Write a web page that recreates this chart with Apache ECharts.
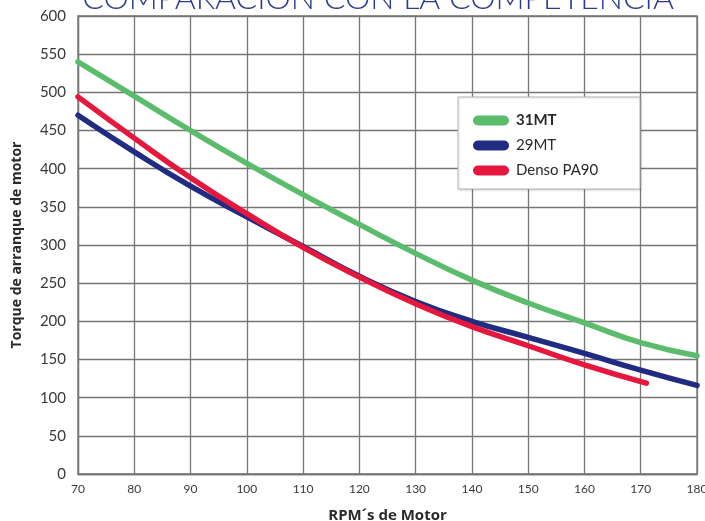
<!DOCTYPE html>
<html>
<head>
<meta charset="utf-8">
<script src="https://cdn.jsdelivr.net/npm/echarts@6/dist/echarts.min.js"></script>
<style>html,body{margin:0;padding:0;background:#fff;}#c{width:705px;height:521px;}</style>
</head>
<body>
<div id="c"></div>
<script>
var rpm = [70, 80, 90, 100, 110, 120, 130, 140, 150, 160, 170, 180];
var rpmDenso = [70, 80, 90, 100, 110, 120, 130, 140, 150, 160, 171];
var t31MT = [540, 495, 450, 407, 366, 327, 289, 254, 224, 198, 172, 155];
var t29MT = [470, 422, 377, 337, 298, 259, 226, 200, 179, 158, 136, 116];
var tDenso = [494, 440, 388, 341, 297, 258, 223, 193, 168, 143, 119];
var seriesNames = ['31MT', '29MT', 'Denso PA90'];
var titleText = 'COMPARACION CON LA COMPETENCIA';
var xName = 'RPM´s de Motor';
var yName = 'Torque de arranque de motor';

function pairs(xs, ys) { return xs.map(function (x, i) { return [x, ys[i]]; }); }

var font = 'Lato, "Open Sans", sans-serif';
var boldFont = '"Open Sans", Lato, sans-serif';
var gridColor = '#767676';
var pill = 'path://M5,0 L31,0 A5,5 0 0 1 31,10 L5,10 A5,5 0 0 1 5,0 Z';
var chart = echarts.init(document.getElementById('c'));
chart.setOption({
  animation: false,
  textStyle: { fontFamily: font },
  grid: { left: 78, right: 8, top: 16, bottom: 47, outerBoundsMode: 'none', containLabel: false, show: true, borderColor: gridColor, borderWidth: 1.3, backgroundColor: '#fff' },
  graphic: [
    { type: 'text', z: 10, style: { text: titleText, x: 378, y: 15, textAlign: 'center', textVerticalAlign: 'bottom', fontSize: 32, fontWeight: 300, fill: '#2b3a8f', fontFamily: font } },
    { type: 'rect', z: 10, shape: { x: 458, y: 97, width: 182, height: 92 }, style: { fill: '#fff', stroke: '#b5b5b5', lineWidth: 1, shadowBlur: 2, shadowColor: 'rgba(0,0,0,0.15)', shadowOffsetX: 1, shadowOffsetY: 1 } }
  ],
  legend: {
    z: 20,
    orient: 'vertical', left: 473, top: 113, padding: 0,
    itemWidth: 36, itemHeight: 10, itemGap: 10,
    icon: pill,
    data: seriesNames,
    formatter: function (n) { return n === seriesNames[0] ? '{b|' + n + '}' : '{n|' + n + '}'; },
    textStyle: {
      fontSize: 15, color: '#2a2a2a', padding: [0, 0, 0, 2], lineHeight: 15,
      rich: { b: { fontWeight: 'bold', fontSize: 15, color: '#2a2a2a', fontFamily: font }, n: { fontSize: 15, color: '#2a2a2a', fontFamily: font } }
    }
  },
  xAxis: {
    type: 'value', min: 70, max: 180, interval: 10,
    name: xName, nameLocation: 'middle', nameGap: 34,
    nameTextStyle: { fontSize: 15, fontWeight: 'bold', color: '#2a2a2a', fontFamily: boldFont },
    axisLine: { lineStyle: { color: gridColor, width: 1.3 } },
    axisTick: { show: false },
    axisLabel: { fontSize: 12, color: '#3a3a3a', margin: 9, fontFamily: font },
    splitLine: { show: true, lineStyle: { color: gridColor, width: 1.3 } }
  },
  yAxis: {
    type: 'value', min: 0, max: 600, interval: 50,
    name: yName, nameLocation: 'middle', nameGap: 54,
    nameTextStyle: { fontSize: 14, fontWeight: 'bold', color: '#2a2a2a', fontFamily: boldFont },
    axisLine: { show: true, lineStyle: { color: gridColor, width: 1.3 } },
    axisTick: { show: false },
    axisLabel: { fontSize: 15, color: '#3a3a3a', margin: 12, fontFamily: font },
    splitLine: { show: true, lineStyle: { color: gridColor, width: 1.3 } }
  },
  series: [
    { name: seriesNames[0], type: 'line', smooth: true, showSymbol: false, symbol: 'none', color: '#5bbd6c', lineStyle: { width: 5.5, cap: 'round' }, data: pairs(rpm, t31MT), z: 3 },
    { name: seriesNames[1], type: 'line', smooth: true, showSymbol: false, symbol: 'none', color: '#1f2c82', lineStyle: { width: 5.5, cap: 'round' }, data: pairs(rpm, t29MT), z: 3 },
    { name: seriesNames[2], type: 'line', smooth: true, showSymbol: false, symbol: 'none', color: '#e5173d', lineStyle: { width: 5.5, cap: 'round' }, data: pairs(rpmDenso, tDenso), z: 4 }
  ]
});
</script>
</body>
</html>
